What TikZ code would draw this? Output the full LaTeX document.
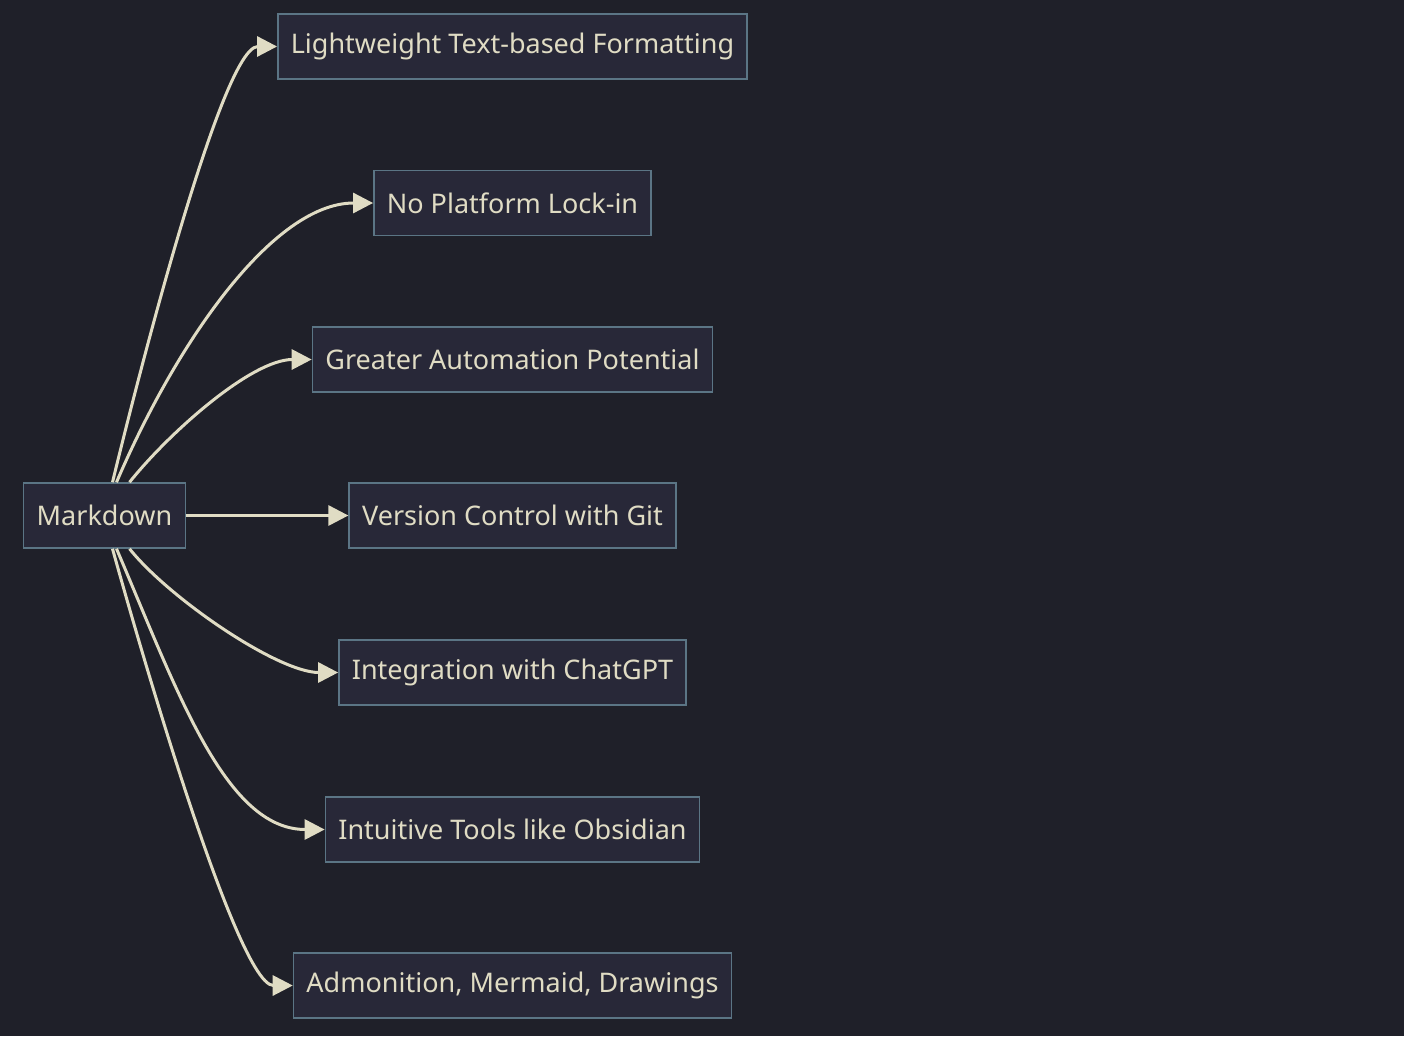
\documentclass[tikz,border=0pt]{standalone}
\usepackage{fontspec}
\setmainfont{Noto Sans}
\usetikzlibrary{arrows.meta}
\definecolor{bgdark}{HTML}{1F2029}
\definecolor{boxfill}{HTML}{282838}
\definecolor{boxline}{HTML}{5B7585}
\definecolor{cream}{HTML}{E0DCC4}
\begin{document}
\begin{tikzpicture}[x=1pt, y=-1pt, line width=3pt,
    main/.style = {draw=boxline, line width=1.5pt, fill=boxfill, text=cream,
      minimum height=65pt, inner xsep=13pt, font=\fontsize{27}{32}\selectfont},
    link/.style = {draw=cream, -{Triangle[length=20pt,width=20pt]}}]
    % sfondo e margini
    \fill[bgdark] (0,0) rectangle (1404,1036);
    \useasboundingbox (0,0) rectangle (1404,1036);

    % Disegna i nodi
    \node[main] (md) at (104.5,515.5) {Markdown};
    \node[main] (light) at (512.5,46.5) {Lightweight Text-based Formatting};
    \node[main] (lock) at (512.5,203) {No Platform Lock-in};
    \node[main] (auto) at (512.5,359.5) {Greater Automation Potential};
    \node[main] (git) at (512.5,515.5) {Version Control with Git};
    \node[main] (gpt) at (512.5,672.5) {Integration with ChatGPT};
    \node[main] (obs) at (512.5,829.5) {Intuitive Tools like Obsidian};
    \node[main] (adm) at (512.5,985.5) {Admonition, Mermaid, Drawings};

    % Disegna gli archi orientati
    \draw[link] ([xshift=8pt]md.north) .. controls +(0,0) and +(-60,0) .. (light.west);
    \draw[link] ([xshift=12pt]md.north) .. controls +(60,-140) and +(-100,0) .. (lock.west);
    \draw[link] ([xshift=25pt]md.north) .. controls +(40,-50) and +(-60,0) .. (auto.west);
    \draw[link] (md) -- (git);
    \draw[link] ([xshift=25pt]md.south) .. controls +(40,50) and +(-60,0) .. (gpt.west);
    \draw[link] ([xshift=12pt]md.south) .. controls +(60,140) and +(-100,0) .. (obs.west);
    \draw[link] ([xshift=8pt]md.south) .. controls +(0,0) and +(-60,0) .. (adm.west);
\end{tikzpicture}
\end{document}
